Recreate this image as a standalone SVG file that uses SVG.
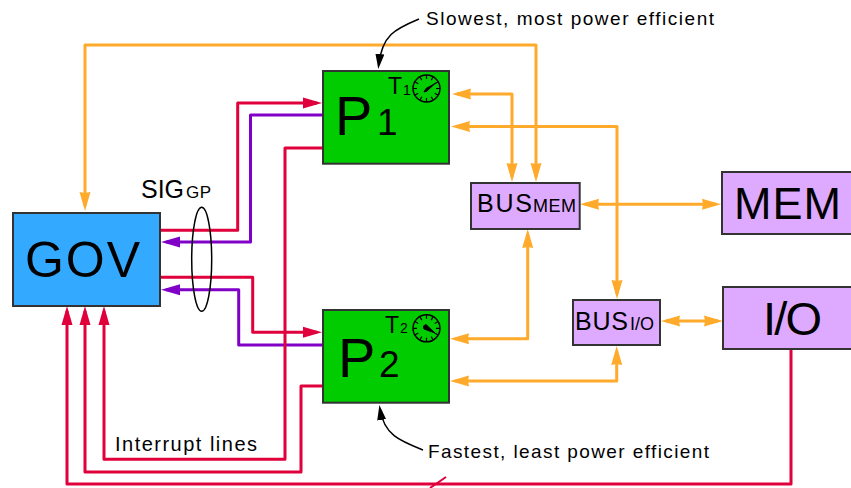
<svg xmlns="http://www.w3.org/2000/svg" xmlns:xlink="http://www.w3.org/1999/xlink" width="851" height="488" viewBox="0 0 851 488">
<style>
text{font-family:"Liberation Sans",Arial,sans-serif;fill:#000}
.box{stroke:#333;stroke-width:2}
.gov{fill:#33aaff}.cpu{fill:#00cc00}.bus{fill:#ddaaff}
.w{fill:none;stroke-width:3;stroke-linejoin:round}
.o{stroke:#ffaa2a}.r{stroke:#e0003c}.p{stroke:#8000c8}
.oa{marker-end:url(#ao)}.ob{marker-start:url(#ao);marker-end:url(#ao)}
.ra{marker-end:url(#ar)}.pa{marker-end:url(#ap)}
.call{fill:none;stroke:#000;stroke-width:1.5;marker-end:url(#ak)}
</style>
<defs>
<marker id="ao" markerUnits="userSpaceOnUse" markerWidth="20" markerHeight="13" viewBox="0 0 20 13" refX="14" refY="6.500" orient="auto-start-reverse"><path d="M0 1L19 6.500L0 12L1 6.500Z" fill="#ffaa2a"/></marker>
<marker id="ar" markerUnits="userSpaceOnUse" markerWidth="20" markerHeight="13" viewBox="0 0 20 13" refX="14" refY="6.500" orient="auto"><path d="M0 1L19 6.500L0 12Z" fill="#e0003c"/></marker>
<marker id="ap" markerUnits="userSpaceOnUse" markerWidth="20" markerHeight="13" viewBox="0 0 20 13" refX="14" refY="6.500" orient="auto"><path d="M0 1L19 6.500L0 12Z" fill="#8000c8"/></marker>
<marker id="ak" markerUnits="userSpaceOnUse" markerWidth="16" markerHeight="10" viewBox="0 0 16 10" refX="11" refY="5" orient="auto"><path d="M0 .5L15 5L0 9.500Z" fill="#000"/></marker>
<g id="dial">
<circle r="13.5" fill="none" stroke="#000" stroke-width="1.5"/>
<path stroke="#000" stroke-width="1.2" d="M0-13.5V-9.5M0 13.5V9.5M-13.5 0H-9.5M13.5 0H9.5M6.7-11.7L4.7-8.2M-6.7-11.7L-4.7-8.2M6.7 11.7L4.7 8.2M-6.7 11.7L-4.7 8.2M11.7-6.7L8.2-4.7M-11.7-6.7L-8.2-4.7M11.7 6.7L8.2 4.7M-11.7 6.7L-8.2 4.7"/>
</g>
</defs>
<rect width="851" height="488" fill="#fff"/>
<g id="connectors">
<path class="w o ob" d="M536 177V45H85V206"/>
<path class="w o ob" d="M457 94H512V177"/>
<path class="w o ob" d="M456 126.500H617V294"/>
<path class="w o ob" d="M585 204.300H716"/>
<path class="w o ob" d="M527.700 234V338.700H455"/>
<path class="w o ob" d="M666 321H718"/>
<path class="w o ob" d="M455 381H616.700V351"/>
<path class="w r ra" d="M160 230.300H237.700V103H317"/>
<path class="w p pa" d="M323 115H250.500V242H166"/>
<path class="w r ra" d="M160 277.300H252.700V332.300H317"/>
<path class="w p pa" d="M323 345H238.700V289.700H166"/>
<path class="w r ra" d="M323 148H285V459.300H104V311"/>
<path class="w r ra" d="M323 386H301V472H85V311"/>
<path class="w r ra" d="M791 349V484H67V311"/>
<path fill="none" stroke="#e0003c" stroke-width="2" d="M430 488L446 477"/>
<ellipse cx="201.700" cy="259.300" rx="10" ry="52" fill="none" stroke="#000" stroke-width="1.500"/>
<path class="call" d="M419 19C395 29 382 35 378.700 65"/>
<path class="call" d="M423 450C400 441 384 435 380 409"/>
</g>
<g id="gov"><rect class="box gov" x="13" y="213" width="147" height="93"/><text x="25" y="276.700" font-size="50" textLength="115">GOV</text></g>
<g id="p1"><rect class="box cpu" x="323" y="71" width="126" height="92.700"/><text x="335" y="135" font-size="56">P</text><text x="377" y="135" font-size="37">1</text><text x="388" y="94" font-size="23">T</text><text x="403" y="95" font-size="14">1</text><use xlink:href="#dial" x="426.500" y="88.500"/><path d="M424 92L426 88.500L435 83.500L427 91Z" fill="#000" stroke="#000"/></g>
<g id="p2"><rect class="box cpu" x="323" y="310" width="126" height="92.700"/><text x="338" y="377" font-size="56">P</text><text x="379" y="377" font-size="37">2</text><text x="385" y="333" font-size="23">T</text><text x="400" y="333" font-size="14">2</text><use xlink:href="#dial" x="426.500" y="328.300"/><path d="M423.500 326L426 324.500L435 333L424 329Z" fill="#000" stroke="#000"/></g>
<g id="busmem"><rect class="box bus" x="471" y="183" width="108.700" height="46"/><text x="477" y="211.700" font-size="25" textLength="55">BUS</text><text x="533" y="211.700" font-size="18" textLength="43">MEM</text></g>
<g id="mem"><rect class="box bus" x="722" y="172" width="140" height="62"/><text x="734" y="219" font-size="45" textLength="107">MEM</text></g>
<g id="busio"><rect class="box bus" x="573" y="300" width="87" height="45"/><text x="575" y="330" font-size="25" textLength="53">BUS</text><text x="630" y="330" font-size="18" textLength="24">I/O</text></g>
<g id="io"><rect class="box bus" x="723" y="287" width="140" height="62"/><text x="763" y="335" font-size="47" textLength="59">I/O</text></g>
<g id="labels">
<text x="141" y="198" font-size="25" textLength="43">SIG</text><text x="186" y="198" font-size="17" textLength="25">GP</text>
<text x="426" y="25" font-size="19" textLength="288">Slowest, most power efficient</text>
<text x="428" y="458" font-size="19" textLength="281">Fastest, least power efficient</text>
<text x="115" y="451" font-size="20" textLength="142">Interrupt lines</text>
</g>
</svg>
